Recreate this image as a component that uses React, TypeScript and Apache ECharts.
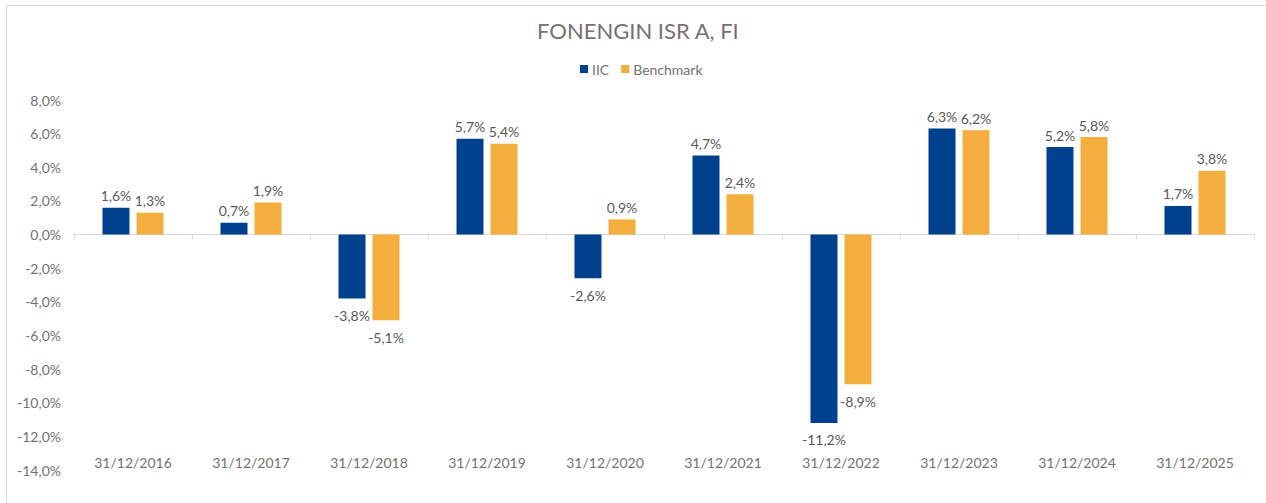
import React, { useEffect, useRef } from "react";
import * as echarts from "echarts";

const categories = [
  "31/12/2016", "31/12/2017", "31/12/2018", "31/12/2019", "31/12/2020",
  "31/12/2021", "31/12/2022", "31/12/2023", "31/12/2024", "31/12/2025",
];
const iicValues = [1.6, 0.7, -3.8, 5.7, -2.6, 4.7, -11.2, 6.3, 5.2, 1.7];
const benchmarkValues = [1.3, 1.9, -5.1, 5.4, 0.9, 2.4, -8.9, 6.2, 5.8, 3.8];
const seriesNames = ["IIC", "Benchmark"];
const titleText = "FONENGIN ISR A, FI";

const fmt = (v: number) => v.toFixed(1).replace(".", ",") + "%";
const FONT = "Lato, 'Noto Sans', sans-serif";

const buildData = (vals: number[]) =>
  vals.map((v) => ({
    value: v,
    label: { position: v >= 0 ? "top" : "bottom", distance: v >= 0 ? 5 : 10 },
  }));

export default function App() {
  const ref = useRef<HTMLDivElement>(null);
  useEffect(() => {
    if (!ref.current) return;
    const chart = echarts.init(ref.current, undefined, { renderer: "svg" });
    const labelCommon = {
      show: true,
      color: "#595959",
      fontSize: 14,
      fontFamily: FONT,
      formatter: (p: any) => fmt(p.value),
    };
    chart.setOption({
      animation: false,
      backgroundColor: "#ffffff",
      title: {
        text: titleText,
        left: 532,
        top: 14,
        textStyle: { color: "#767171", fontSize: 22, fontWeight: "normal", fontFamily: FONT },
      },
      legend: {
        data: seriesNames,
        top: 57,
        left: 575,
        icon: "rect",
        itemWidth: 8,
        itemHeight: 8,
        itemGap: 12,
        textStyle: { color: "#767171", fontSize: 14, fontFamily: FONT, padding: [0, 0, 0, -1] },
      },
      graphic: [
        {
          type: "rect",
          shape: { x: 6.5, y: 5.5, width: 1300, height: 600 },
          style: { fill: "none", stroke: "#d9d9d9", lineWidth: 1 },
          silent: true,
          z: -10,
        },
      ],
      grid: { left: 74, right: 12, top: 100, bottom: 33, containLabel: false },
      xAxis: [
        {
          type: "category",
          data: categories,
          axisLine: { onZero: true, lineStyle: { color: "#d9d9d9", width: 1 } },
          axisTick: { show: true, length: 5, lineStyle: { color: "#d9d9d9" } },
          axisLabel: { show: false },
          splitLine: { show: false },
        },
        {
          type: "category",
          data: categories,
          position: "bottom",
          axisLine: { show: false },
          axisTick: { show: false },
          axisLabel: {
            show: true,
            margin: -15,
            color: "#767171",
            fontSize: 14,
            fontFamily: FONT,
          },
          splitLine: { show: false },
        },
      ],
      yAxis: {
        type: "value",
        min: -14,
        max: 8,
        interval: 2,
        axisLine: { show: false },
        axisTick: { show: false },
        splitLine: { show: false },
        axisLabel: {
          margin: 13,
          color: "#767171",
          fontSize: 14,
          fontFamily: FONT,
          formatter: (v: number) => fmt(v),
        },
      },
      series: [
        {
          name: seriesNames[0],
          type: "bar",
          xAxisIndex: 0,
          data: buildData(iicValues),
          barWidth: 27,
          barGap: "26%",
          itemStyle: { color: "#00418E" },
          label: labelCommon,
        },
        {
          name: seriesNames[1],
          type: "bar",
          xAxisIndex: 0,
          data: buildData(benchmarkValues),
          barWidth: 27,
          barGap: "26%",
          itemStyle: { color: "#F4AE3D" },
          label: labelCommon,
        },
      ],
    });
    return () => chart.dispose();
  }, []);
  return (
    <div
      ref={ref}
      style={{ position: "fixed", left: 0, top: 0, width: 1266, height: 503 }}
    />
  );
}
